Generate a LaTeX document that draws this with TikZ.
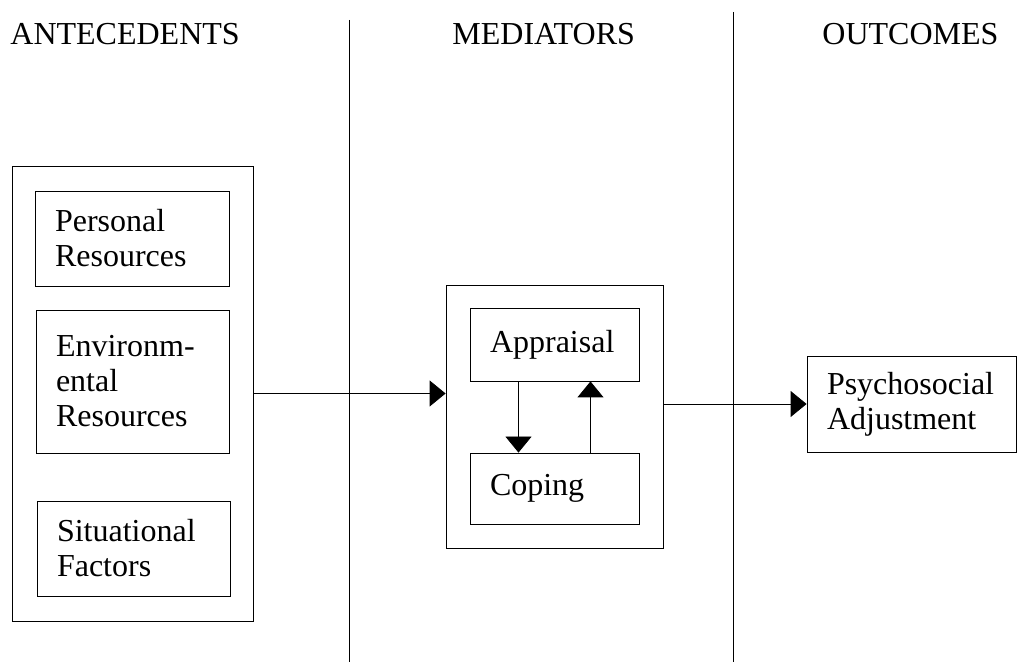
\documentclass[tikz,border=0pt]{standalone}
\usepackage{fontspec}
\setmainfont{Liberation Serif}
\usetikzlibrary{arrows.meta}
\tikzset{
	,x = 0.5pt, y = -0.5pt
	,line width = 1.4pt
	,font = \fontsize{16}{17.5}\selectfont
	,blk/.style   = {rectangle, draw=black, align=left, inner xsep=10pt, inner ysep=0pt}
	,frame/.style = {rectangle, draw=black, inner sep=0pt}
	,head/.style  = {anchor=base west, inner sep=0pt}
	,arr/.style   = {-{Triangle[length=8pt, width=13pt]}}
}

\begin{document}
\begin{tikzpicture}
		\useasboundingbox (0,0) rectangle (1018,662);
		% column headings and dividers
		\node[head] at (10, 45)  (h1) {ANTECEDENTS};
		\node[head] at (452, 45) (h2) {MEDIATORS};
		\node[head] at (822, 45) (h3) {OUTCOMES};
		\draw (349, 20) -- (349, 662);
		\draw (733, 12) -- (733, 662);
		% antecedents
		\node[frame, minimum width=120.5pt, minimum height=227.5pt] at (132.5, 393.5) (ante) {};
		\node[blk, text width=77pt,   minimum height=47.5pt] at (132, 238.5)   (pers) {Personal\\Resources};
		\node[blk, text width=76.5pt, minimum height=71.5pt] at (132.5, 381.5) (envi) {Environm-\\ental\\Resources};
		\node[blk, text width=76.5pt, minimum height=47.5pt] at (133.5, 548.5) (situ) {Situational\\Factors};
		% mediators
		\node[frame, minimum width=108.5pt, minimum height=131.5pt] at (554.5, 416.5) (med) {};
		\node[blk, text width=64.5pt, minimum height=36.5pt] at (554.5, 344.5) (appr) {Appraisal};
		\node[blk, text width=64.5pt, minimum height=35.5pt] at (554.5, 488.5) (cope) {Coping};
		% outcomes
		\node[blk, text width=84.5pt, minimum height=48pt] at (911.5, 404) (psyc) {Psychosocial\\Adjustment};
		% connectors
		\draw[arr] (ante.east) -- (ante.east -| med.west);
		\draw[arr] ([xshift=-18pt]appr.south) -- ([xshift=-18pt]cope.north);
		\draw[arr] ([xshift=18pt]cope.north) -- ([xshift=18pt]appr.south);
		\draw[arr] (med.east |- psyc.west) -- (psyc.west);
	\end{tikzpicture}
\end{document}
